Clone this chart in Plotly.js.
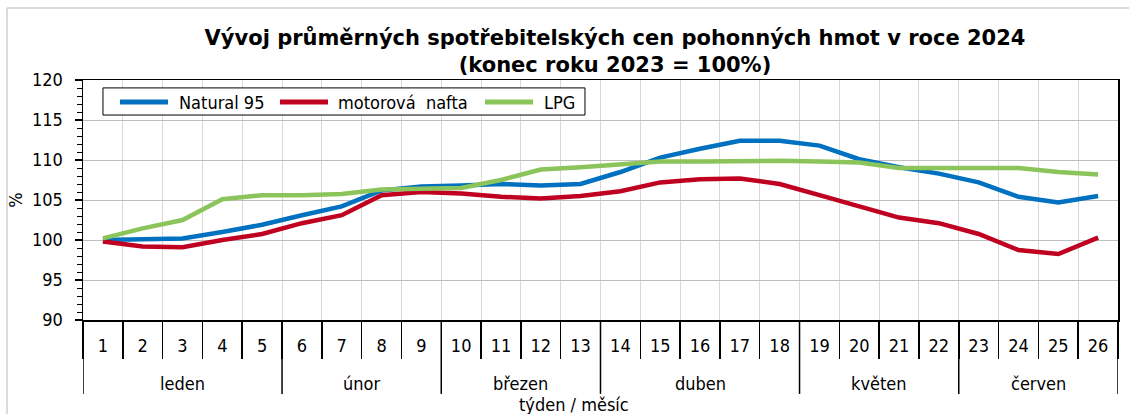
<!DOCTYPE html>
<html>
<head>
<meta charset="utf-8">
<script src="https://cdn.plot.ly/plotly-3.0.1.min.js"></script>
<style>html,body{margin:0;padding:0;background:#fff;}#chart{width:1129px;height:414px;}</style>
</head>
<body>
<div id="chart"></div>
<script>
const weeks = [1,2,3,4,5,6,7,8,9,10,11,12,13,14,15,16,17,18,19,20,21,22,23,24,25,26];
const monthNames = ["leden","únor","březen","duben","květen","červen"];
const monthWeekCounts = [5,4,4,5,4,4];
const natural95 = [100.0,100.1,100.2,101.0,101.9,103.1,104.2,106.2,106.7,106.8,107.0,106.8,107.0,108.5,110.3,111.4,112.4,112.4,111.8,110.1,109.1,108.3,107.2,105.4,104.7,105.5];
const nafta = [99.8,99.2,99.1,100.0,100.75,102.1,103.1,105.6,106.0,105.8,105.4,105.2,105.5,106.1,107.2,107.6,107.7,107.0,105.6,104.25,102.8,102.1,100.75,98.75,98.25,100.3];
const lpg = [100.2,101.45,102.5,105.1,105.6,105.6,105.75,106.3,106.4,106.5,107.5,108.8,109.1,109.4,109.8,109.8,109.9,109.9,109.8,109.7,109.0,109.0,109.05,109.0,108.5,108.2];
const seriesNames = ["Natural 95","motorová\u00a0\u00a0nafta","LPG"];
const seriesColors = ["#0070C0","#C00020","#8BC45A"];
const yTicks = [90,95,100,105,110,115,120];

const FONT = "DejaVu Sans Condensed, Liberation Sans, sans-serif";

const traces = [natural95, nafta, lpg].map((vals, i) => ({
  x: weeks, y: vals, type: "scatter", mode: "lines",
  name: seriesNames[i],
  line: {color: seriesColors[i], width: 4.5},
  hoverinfo: "skip"
}));

const shapes = [];
const annotations = [];

// month dividers and labels
let start = weeks[0] - 0.5;
shapes.push({type:"line", xref:"x", yref:"paper", x0:start, x1:start, y0:0, y1:-0.308, line:{color:"#000", width:1.5}});
monthNames.forEach((m, i) => {
  const end = start + monthWeekCounts[i];
  shapes.push({type:"line", xref:"x", yref:"paper", x0:end, x1:end, y0:0, y1:-0.308, line:{color:"#000", width:1.5}});
  annotations.push({xref:"x", yref:"paper", x:(start+end)/2, y:-0.263, text:m, showarrow:false,
    font:{family:FONT, size:18, color:"#000"}, xanchor:"center", yanchor:"middle"});
  start = end;
});
annotations.push({xref:"paper", yref:"paper", x:0.474, y:-0.354, text:"týden / měsíc", showarrow:false,
  font:{family:FONT, size:18, color:"#000"}, xanchor:"center", yanchor:"middle"});

// legend (drawn as a boxed key)
const legBox = {x0:0.0193, x1:0.4850, y0:0.854, y1:0.967};
const legY = 0.908;
const legSample = [[0.0357, 0.0821], [0.1903, 0.2367], [0.3884, 0.4348]];
const legText = [0.0918, 0.2454, 0.4444];
shapes.push({type:"rect", xref:"paper", yref:"paper", x0:legBox.x0, x1:legBox.x1, y0:legBox.y0, y1:legBox.y1,
  line:{color:"#000", width:1}, fillcolor:"#fff", layer:"above"});
seriesNames.forEach((n, i) => {
  shapes.push({type:"line", xref:"paper", yref:"paper", x0:legSample[i][0], x1:legSample[i][1], y0:legY, y1:legY,
    line:{color:seriesColors[i], width:5}, layer:"above"});
  annotations.push({xref:"paper", yref:"paper", x:legText[i], y:legY, text:n, showarrow:false,
    font:{family:FONT, size:18, color:"#000"}, xanchor:"left", yanchor:"middle", borderpad:0});
});

// outer border
shapes.push({type:"line", xref:"paper", yref:"paper", x0:-0.0734, x1:1.2, y0:1.3, y1:1.3, line:{color:"#d0d0d0", width:1.5}});
shapes.push({type:"line", xref:"paper", yref:"paper", x0:-0.0734, x1:-0.0734, y0:1.3, y1:-0.5, line:{color:"#d0d0d0", width:1.5}});

const layout = {
  width: 1129, height: 414,
  margin: {l:83, r:11, t:80, b:94},
  paper_bgcolor: "#fff", plot_bgcolor: "#fff",
  font: {family: FONT, size: 18, color: "#000"},
  title: {
    text: "<b>Vývoj průměrných spotřebitelských cen pohonných hmot v roce 2024<br>(konec roku 2023 = 100%)</b>",
    font: {family: "DejaVu Sans, sans-serif", size: 21, color: "#000"},
    x: 615/1129, xanchor: "center", y: 1 - 45/414, yanchor: "top", xref: "container", yref: "container"
  },
  showlegend: false,
  xaxis: {
    range: [0.5, 26.5], tickmode: "array", tickvals: weeks, ticktext: weeks.map(String),
    ticks: "", showgrid: false, zeroline: false,
    showline: true, linecolor: "#000", linewidth: 1.5, mirror: true,
    tickfont: {family: FONT, size: 18, color: "#000"},
    ticklabelstandoff: 9,
    minor: {tick0: 0.5, dtick: 1, ticks: "outside", ticklen: 37, tickcolor: "#000", tickwidth: 1.5,
      showgrid: true, gridcolor: "#d9d9d9", gridwidth: 1}
  },
  yaxis: {
    range: [90, 120], tickmode: "array", tickvals: yTicks, ticktext: yTicks.map(String),
    ticks: "outside", ticklen: 7, tickcolor: "#000", tickwidth: 1.5,
    showgrid: true, gridcolor: "#bfbfbf", gridwidth: 1, zeroline: false,
    showline: true, linecolor: "#000", linewidth: 1.5, mirror: true,
    tickfont: {family: FONT, size: 18, color: "#000"},
    ticklabelstandoff: 8,
    title: {text: "%", font: {family: FONT, size: 18, color: "#000"}, standoff: 4},
    minor: {tick0: 90, dtick: 1, ticks: "outside", ticklen: 5, tickcolor: "#000", tickwidth: 1, showgrid: false}
  },
  shapes: shapes,
  annotations: annotations
};

Plotly.newPlot("chart", traces, layout, {displayModeBar: false, staticPlot: true});
</script>
</body>
</html>
